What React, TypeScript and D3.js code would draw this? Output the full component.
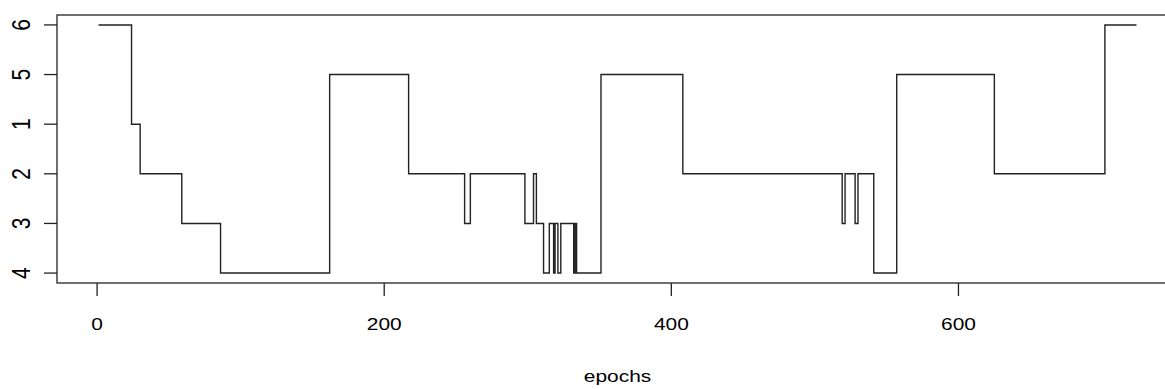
import React from "react";
import * as d3 from "d3";

// State sequence over training epochs: each run starts at stepEpochs[i] with state stepStates[i]
const stepEpochs = [1, 24, 30, 59, 86, 162, 217, 256, 260, 298, 304, 306, 311, 315, 318, 319, 321, 323, 332, 333, 334, 351, 408, 519, 521, 528, 530, 541, 557, 625, 702];
const stepStates = ["6", "1", "2", "3", "4", "5", "2", "3", "2", "3", "2", "3", "4", "3", "4", "3", "4", "3", "4", "3", "4", "5", "2", "3", "2", "3", "2", "4", "5", "2", "6"];
const lastEpoch = 724;

// Factor levels, bottom to top
const stateLevels = ["4", "3", "2", "1", "5", "6"];
const xTicks = [0, 200, 400, 600];

const W = 1165;
const H = 389;
const M = { left: 57, right: 1178, top: 15, bottom: 283 };
const FONT = "'Liberation Sans', Arial, sans-serif";
const STRETCH = 1.23;

export default function App() {
  const span = lastEpoch - stepEpochs[0];
  const x = d3
    .scaleLinear()
    .domain([stepEpochs[0] - 0.04 * span, lastEpoch + 0.04 * span])
    .range([M.left, M.right]);
  const y = d3.scaleLinear().domain([0.8, 6.2]).range([M.bottom, M.top]);
  const lvl = (s: string) => stateLevels.indexOf(s) + 1;

  const pts: [number, number][] = stepEpochs.map((e, i) => [e, lvl(stepStates[i])]);
  pts.push([lastEpoch, lvl(stepStates[stepStates.length - 1])]);

  const line = d3
    .line<[number, number]>()
    .x((d) => x(d[0]))
    .y((d) => y(d[1]))
    .curve(d3.curveStepAfter);

  const ink = "#222";

  return (
    <svg width={W} height={H} style={{ position: "absolute", left: 0, top: 0 }}>
      <rect x={0} y={0} width={W} height={H} fill="#fff" />
      <rect
        x={M.left}
        y={M.top}
        width={M.right - M.left}
        height={M.bottom - M.top}
        fill="none"
        stroke={ink}
        strokeWidth={1.3}
      />
      <path d={line(pts) || ""} fill="none" stroke={ink} strokeWidth={1.4} />

      {/* x axis */}
      {xTicks.map((t) => (
        <g key={t}>
          <line x1={x(t)} x2={x(t)} y1={M.bottom} y2={M.bottom + 13} stroke={ink} strokeWidth={1.3} />
          <text
            transform={`translate(${x(t)},330) scale(${STRETCH},1)`}
            textAnchor="middle"
            fontFamily={FONT}
            fontSize={17}
            fill="#000"
          >
            {t}
          </text>
        </g>
      ))}

      {/* y axis */}
      {stateLevels.map((s) => {
        const yy = y(lvl(s));
        return (
          <g key={s}>
            <line x1={M.left - 13} x2={M.left} y1={yy} y2={yy} stroke={ink} strokeWidth={1.3} />
            <text
              transform={`translate(30,${yy}) scale(${STRETCH},1) rotate(-90)`}
              textAnchor="middle"
              fontFamily={FONT}
              fontSize={21}
              fill="#000"
            >
              {s}
            </text>
          </g>
        );
      })}

      <text
        transform={`translate(${(M.left + M.right) / 2},382) scale(${STRETCH},1)`}
        textAnchor="middle"
        fontFamily={FONT}
        fontSize={17}
        fill="#000"
      >
        epochs
      </text>
    </svg>
  );
}
